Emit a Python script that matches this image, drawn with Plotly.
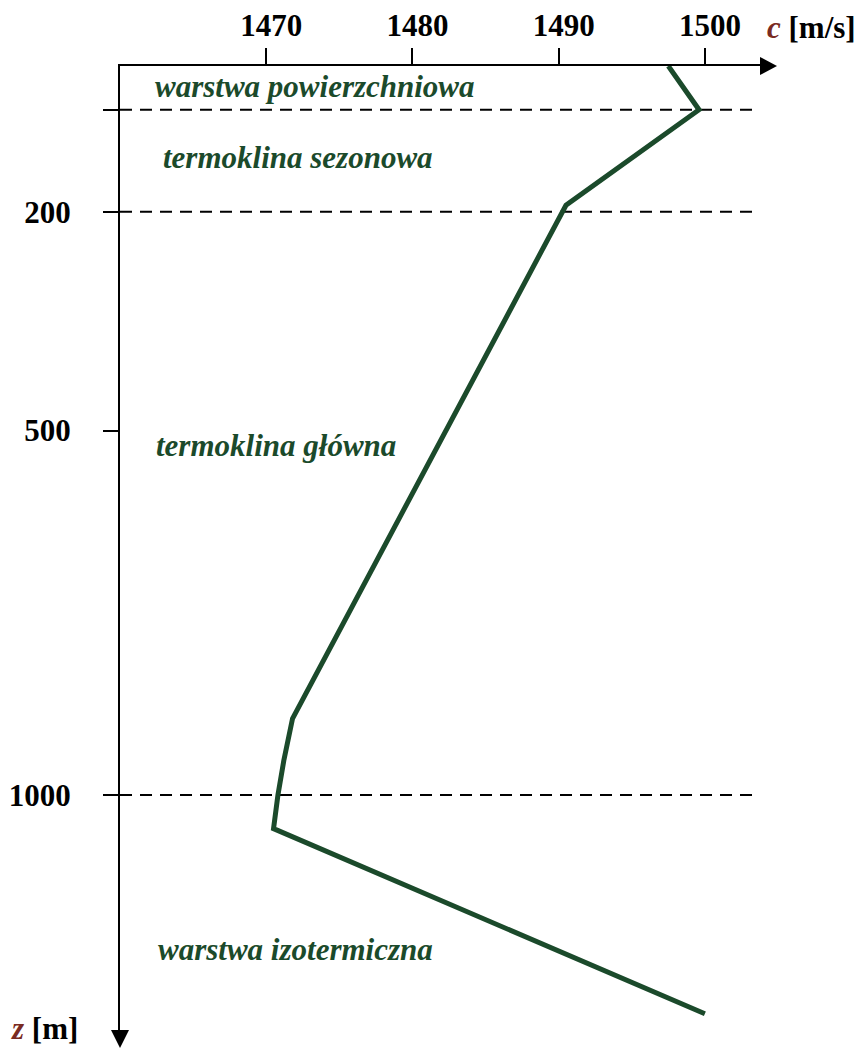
import plotly.graph_objects as go

# ---- data ----
c_values = [1497.5, 1499.6, 1490.5, 1471.8, 1471.2, 1470.8, 1470.5, 1500.0]
z_values = [0, 60, 191, 895, 953, 1000, 1046, 1300]

x_tickvals = [1470, 1480, 1490, 1500]
y_tickvals = [60, 200, 500, 1000]
y_ticktext = ["", "200", "500", "1000"]

dashed_levels = [60, 200, 1000]

layer_labels = ["warstwa powierzchniowa", "termoklina sezonowa",
                "termoklina główna", "warstwa izotermiczna"]
layer_depths = [28, 126, 521, 1212]

# ---- styling ----
FONT = "Liberation Serif"
GREEN = "#1b4a2b"
RED = "#7a2b22"
W, H = 857, 1048
L, R, T, B = 120, 97, 66, 18
PW = W - L - R
PH = H - T - B

fig = go.Figure()
fig.add_trace(go.Scatter(
    x=c_values, y=z_values, mode="lines",
    line=dict(color=GREEN, width=5),
    cliponaxis=False, hoverinfo="skip", showlegend=False))

for z in dashed_levels:
    fig.add_shape(type="line", xref="paper", yref="y", x0=0, x1=1, y0=z, y1=z,
                  line=dict(color="black", width=2, dash="12px,8px"), layer="below")

# arrowheads
fig.add_shape(type="path", xref="paper", yref="paper", xsizemode="pixel", ysizemode="pixel",
              xanchor=1, yanchor=1, path="M0,-9 L17,0 L0,9 Z",
              fillcolor="black", line=dict(color="black", width=0))
fig.add_shape(type="path", xref="paper", yref="paper", xsizemode="pixel", ysizemode="pixel",
              xanchor=0, yanchor=0, path="M-9,0 L9,0 L0,-18 Z",
              fillcolor="black", line=dict(color="black", width=0))

left_px = [153, 161, 154, 156]
for txt, z, lx in zip(layer_labels, layer_depths, left_px):
    fig.add_annotation(text=f"<b><i>{txt}</i></b>", xref="paper", yref="y",
                       x=(lx - L) / PW, y=z, xanchor="left", yanchor="middle",
                       showarrow=False, font=dict(family=FONT, size=31, color=GREEN))

fig.add_annotation(text=f"<span style='color:{RED}'><b><i>c</i></b></span> <b>[m/s]</b>",
                   xref="paper", yref="paper", x=(765 - L) / PW, y=(H - 28 - B) / PH,
                   xanchor="left", yanchor="middle", showarrow=False,
                   font=dict(family=FONT, size=31, color="black"))
fig.add_annotation(text=f"<span style='color:{RED}'><b><i>z</i></b></span> <b>[m]</b>",
                   xref="paper", yref="paper", x=(9 - L) / PW, y=(H - 1028 - B) / PH,
                   xanchor="left", yanchor="middle", showarrow=False,
                   font=dict(family=FONT, size=31, color="black"))

fig.update_layout(
    width=W, height=H,
    margin=dict(l=L, r=R, t=T, b=B, pad=0, autoexpand=False),
    paper_bgcolor="white", plot_bgcolor="white",
    showlegend=False,
    xaxis=dict(side="top", range=[1460, 1503.77], tickvals=x_tickvals,
               ticks="outside", ticklen=16, tickwidth=2, tickcolor="black",
               showline=True, linewidth=2, linecolor="black",
               showgrid=False, zeroline=False, automargin=False, ticklabelshift=5,
               tickfont=dict(family=FONT, size=31, color="black", weight="bold")),
    yaxis=dict(range=[1322.2, 0], tickvals=y_tickvals, ticktext=y_ticktext,
               ticks="outside", ticklen=15, tickwidth=2, tickcolor="black",
               showline=True, linewidth=2, linecolor="black",
               showgrid=False, zeroline=False, automargin=False, ticklabelstandoff=26,
               tickfont=dict(family=FONT, size=31, color="black", weight="bold")),
)

fig.write_html("out.html", config={"displayModeBar": False},
               post_script="document.body.style.margin='0px';")
